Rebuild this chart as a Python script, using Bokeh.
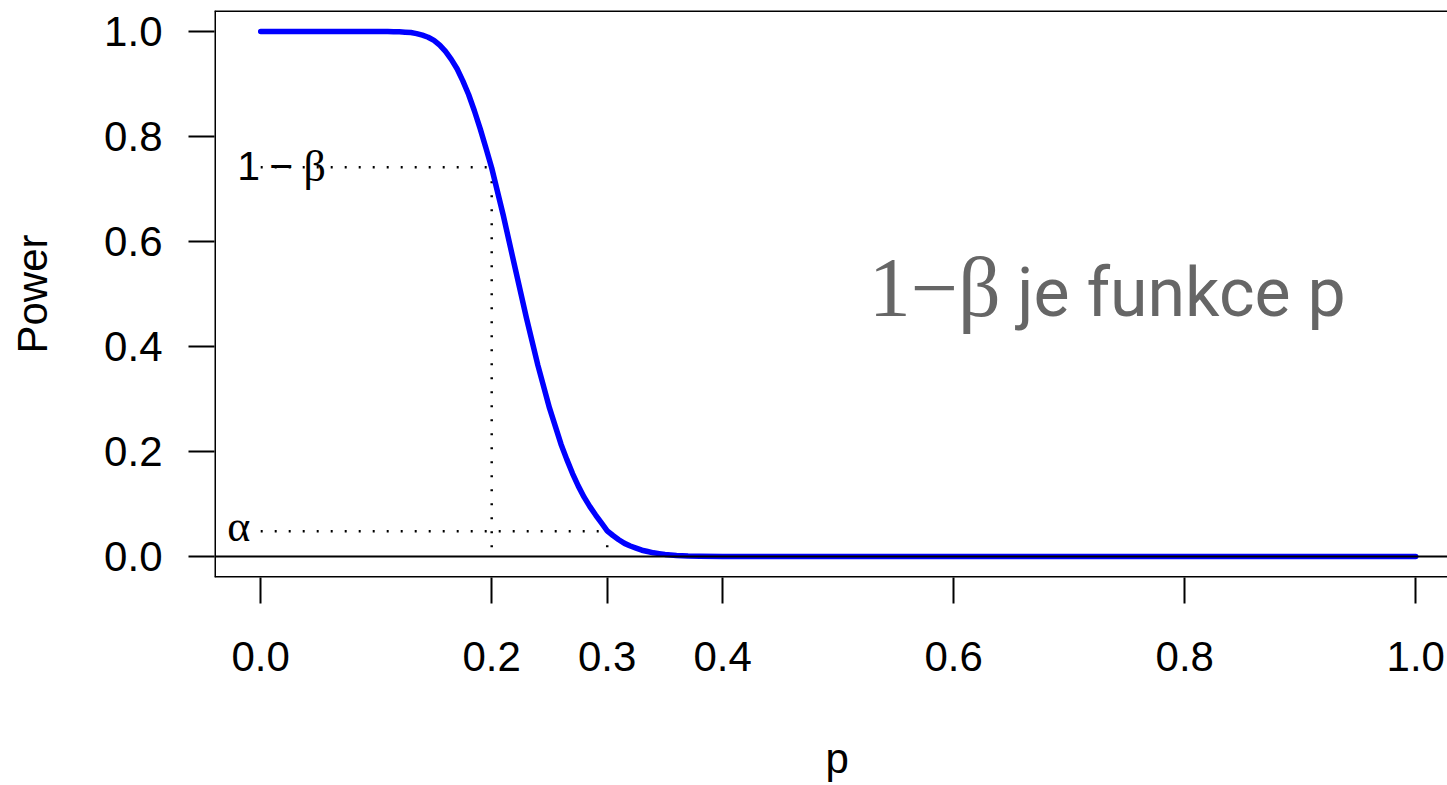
import math
from bokeh.plotting import figure
from bokeh.models import Range1d, FixedTicker, PrintfTickFormatter, Span, Label, ColumnDataSource, Title
from bokeh.embed import file_html
from bokeh.resources import INLINE

# ---- data ----
p_vals = [0.0, 0.05, 0.10, 0.11, 0.115, 0.12, 0.125, 0.13, 0.135, 0.14, 0.145, 0.15, 0.155, 0.16,
          0.165, 0.17, 0.175, 0.18, 0.185, 0.19, 0.195, 0.20, 0.21, 0.22, 0.23, 0.24, 0.25, 0.26,
          0.265, 0.27, 0.275, 0.28, 0.285, 0.29, 0.295, 0.30, 0.305, 0.31, 0.315, 0.32, 0.325,
          0.33, 0.335, 0.34, 0.345, 0.35, 0.36, 0.37, 0.38, 0.40, 0.45, 0.50, 0.60, 0.70, 0.80,
          0.90, 1.0]
power = [1.000, 1.000, 1.000, 1.000, 0.9997, 0.9994, 0.9987, 0.998, 0.996, 0.993, 0.989, 0.983,
         0.974, 0.962, 0.947, 0.929, 0.906, 0.880, 0.849, 0.815, 0.778, 0.740, 0.650, 0.552, 0.455,
         0.364, 0.283, 0.214, 0.185, 0.158, 0.134, 0.113, 0.095, 0.079, 0.064, 0.049, 0.040, 0.032,
         0.025, 0.020, 0.016, 0.012, 0.0095, 0.007, 0.0055, 0.004, 0.002, 0.001, 0.0007, 0.0002,
         0.0, 0.0, 0.0, 0.0, 0.0, 0.0, 0.0]

p_alt = 0.2          # alternative p where 1-beta is marked
power_alt = 0.7415   # 1 - beta
p_null = 0.3         # null p where alpha is marked
alpha = 0.048

x_ticks = [0.0, 0.2, 0.3, 0.4, 0.6, 0.8, 1.0]
y_ticks = [0.0, 0.2, 0.4, 0.6, 0.8, 1.0]

x_label = "p"
y_label = "Power"
big_note_math = "1\u2212\u03b2"
big_note_text = "je funkce p"

# ---- figure ----
W, H = 1447, 785
p = figure(width=W, height=H, output_backend="svg", toolbar_location=None,
           x_range=Range1d(-0.04, 1.0275), y_range=Range1d(-0.04, 1.04),
           min_border_left=214, min_border_right=0, min_border_top=10, min_border_bottom=208)
p.outline_line_color = None
p.grid.visible = False
p.background_fill_color = "white"
p.border_fill_color = "white"

for ax, ticks in ((p.xaxis, x_ticks), (p.yaxis, y_ticks)):
    ax.ticker = FixedTicker(ticks=ticks)
    ax.formatter = PrintfTickFormatter(format="%.1f")
    ax.axis_line_color = None
    ax.major_tick_line_color = "black"
    ax.major_tick_line_width = 2
    ax.major_tick_out = 26
    ax.major_tick_in = 0
    ax.minor_tick_line_color = None
    ax.major_label_text_font = "Liberation Sans"
    ax.major_label_text_font_size = "42px"
    ax.major_label_text_color = "black"
p.xaxis.major_label_standoff = 38
p.yaxis.major_label_standoff = 26
p.yaxis.major_label_orientation = "horizontal"

# y axis title
p.yaxis.axis_label = y_label
p.yaxis.axis_label_text_font = "Liberation Sans"
p.yaxis.axis_label_text_font_size = "42px"
p.yaxis.axis_label_text_font_style = "normal"
p.yaxis.axis_label_text_color = "black"
p.yaxis.axis_label_standoff = 45

# x axis title: a spacer title, then the "p" title shifted to the R plot-region centre
p.add_layout(Title(text=" ", text_font_size="1px", standoff=56), "below")
p.add_layout(Title(text=x_label, align="left", offset=611, vertical_align="bottom",
                   text_font="Liberation Sans", text_font_size="42px",
                   text_font_style="normal", text_color="black", standoff=0), "below")

# box (left, top, bottom)
for loc, dim in ((1.04, "width"), (-0.04, "width"), (-0.04, "height")):
    p.add_layout(Span(location=loc, dimension=dim, line_color="black", line_width=3))

# dotted guide lines
seg = ColumnDataSource(dict(
    x0=[0.0, p_alt, 0.0, p_null],
    y0=[power_alt, power_alt, alpha, alpha],
    x1=[p_alt, p_alt, p_null, p_null],
    y1=[power_alt, 0.0, alpha, 0.0],
))
p.segment("x0", "y0", "x1", "y1", source=seg, line_color="black", line_width=2.5,
          line_dash="2 12")

# power curve
p.line(p_vals, power, line_color="blue", line_width=5.5, line_cap="round", line_join="round")

# horizontal line at 0 (drawn on top)
p.add_layout(Span(location=0, dimension="width", line_color="black", line_width=2))

# labels on guides
p.add_layout(Label(x=(249 - 261) / 1155, y=0.7436, text="1", text_font="Liberation Sans",
                   text_font_size="41px", text_color="black", text_align="center",
                   text_baseline="middle"))
p.add_layout(Label(x=(281.5 - 261) / 1155, y=0.7436, text="\u2212", text_font="Liberation Sans",
                   text_font_size="41px", text_color="black", text_align="center",
                   text_baseline="middle"))
p.add_layout(Label(x=(315 - 261) / 1155, y=0.7436, text="\u03b2", text_font="Liberation Serif",
                   text_font_size="44px", text_color="black", text_align="center",
                   text_baseline="middle"))
p.add_layout(Label(x=(239 - 261) / 1155, y=0.0566, text="\u03b1", text_font="Liberation Serif",
                   text_font_size="44px", text_color="black", text_align="center",
                   text_baseline="middle"))

# big grey note
p.add_layout(Label(x=0.5264, y=0.5131, text=big_note_math, text_font="Liberation Serif",
                   text_font_size="84px", text_color="#666666", text_align="left",
                   text_baseline="middle"))
p.add_layout(Label(x=0.655, y=0.5025, text=big_note_text, text_font="Roboto",
                   text_font_size="68px", text_color="#666666", text_align="left",
                   text_baseline="middle"))

open("out.html", "w").write(file_html(p, INLINE))
